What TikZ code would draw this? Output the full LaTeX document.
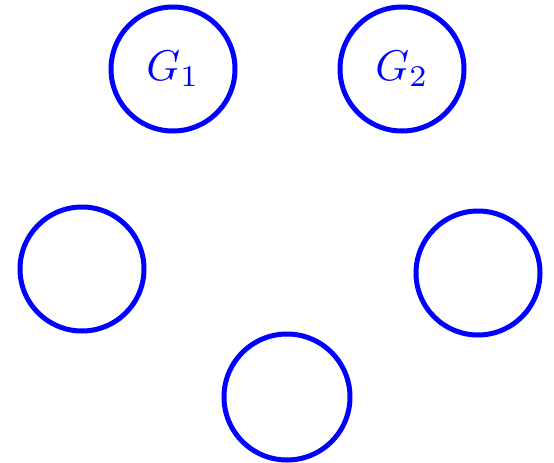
\documentclass[tikz,border=0pt]{standalone}
\usepackage{graphicx}
\usepackage{tikz}
\tikzset{grp/.style={draw=blue, line width=5pt, circle, minimum size=124pt, inner sep=0pt, text=blue}}
\newcommand{\grlabel}[1]{\scalebox{4.3}{$#1$}}

\begin{document}
\begin{tikzpicture}[x=1pt,y=-1pt]
\useasboundingbox (0,0) rectangle (554,463);
\node[grp] (g1) at (173,69) {\grlabel{G_1}};
\node[grp] (g2) at (402,69) {\grlabel{G_2}};
\node[grp] (g3) at (82,269) {};
\node[grp] (g4) at (478,273) {};
\node[grp, minimum size=126pt] (g5) at (287,397) {};
\end{tikzpicture}
\end{document}
